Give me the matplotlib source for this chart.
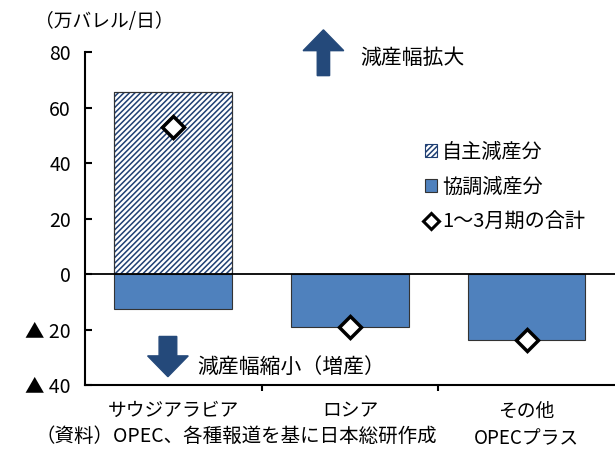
import matplotlib
matplotlib.use("Agg")
import numpy as np
import matplotlib.pyplot as plt
from matplotlib.patches import Patch, FancyArrow
from matplotlib.lines import Line2D

plt.rcParams['font.family'] = ['Noto Sans CJK JP', 'DejaVu Sans']
plt.rcParams['hatch.linewidth'] = 1.1

# data (万バレル/日)
categories = ["サウジアラビア", "ロシア", "その他\nOPECプラス"]
voluntary = [65.5, 0.0, 0.0]          # 自主減産分
coordinated = [-12.5, -19.0, -23.7]   # 協調減産分
total_q1 = [53.0, -19.0, -23.7]       # 1～3月期の合計
yticks = [80, 60, 40, 20, 0, -20, -40]
ytick_labels = ["80", "60", "40", "20", "0", "▲ 20", "▲ 40"]

blue = "#4F81BD"
navy = "#1F3F73"
arrow_col = "#24497A"

fig = plt.figure(figsize=(6.15, 4.49), dpi=100)
ax = fig.add_axes([0.138, 0.1425, 0.862, 0.7416])

x = np.arange(len(categories))
w = 0.665
ax.bar(x, voluntary, w, color="white", edgecolor=navy, hatch="//////", linewidth=0.8)
ax.bar(x, voluntary, w, color="none", edgecolor="#333333", linewidth=0.8)
ax.bar(x, coordinated, w, color=blue, edgecolor="#333333", linewidth=0.8)
ax.axhline(0, color="black", linewidth=1.3, zorder=3)
ax.plot(x, total_q1, linestyle="none", marker="D", markersize=11,
        markerfacecolor="white", markeredgecolor="black", markeredgewidth=2.5, zorder=4)

ax.set_xlim(-0.5, 2.5)
ax.set_ylim(-40, 80)
ax.set_yticks(yticks)
ax.set_yticklabels(ytick_labels, fontsize=14)
ax.set_xticks(x)
ax.set_xticklabels(categories, fontsize=13.5, linespacing=1.45)
ax.set_xticks([0.5, 1.5], minor=True)
ax.tick_params(axis="x", which="major", length=0, pad=11)
ax.tick_params(axis="x", which="minor", direction="out", length=4, width=1.5)
ax.tick_params(axis="y", direction="in", length=5, width=1.5, pad=10)
for s in ["top", "right"]:
    ax.spines[s].set_visible(False)
for s in ["left", "bottom"]:
    ax.spines[s].set_linewidth(1.5)

# arrows
ax.add_patch(FancyArrow(0.85, 71.5, 0, 16.5, width=0.07, head_width=0.23,
                        head_length=7.5, length_includes_head=True,
                        color=arrow_col, clip_on=False))
ax.text(1.06, 77.8, "減産幅拡大", fontsize=15, va="center", ha="left")
ax.add_patch(FancyArrow(-0.03, -22.5, 0, -14.5, width=0.1, head_width=0.23,
                        head_length=7.5, length_includes_head=True,
                        color=arrow_col, clip_on=False))
ax.text(0.135, -33.5, "減産幅縮小（増産）", fontsize=15, va="center", ha="left")

handles = [
    Patch(facecolor="white", edgecolor=navy, hatch="//////", linewidth=0.8),
    Patch(facecolor=blue, edgecolor="#333333", linewidth=0.8),
    Line2D([], [], linestyle="none", marker="D", markersize=8,
           markerfacecolor="white", markeredgecolor="black", markeredgewidth=2.2),
]
labels = ["自主減産分", "協調減産分", "1～3月期の合計"]
ax.legend(handles, labels, loc="upper left", bbox_to_anchor=(0.626, 0.755),
          frameon=False, fontsize=14.5, handlelength=0.6, handleheight=0.6,
          handletextpad=0.25, labelspacing=0.7, borderaxespad=0)

fig.text(0.057, 1 - 22 / 449, "（万バレル/日）", fontsize=13.5, va="center", ha="left")
fig.text(0.057, 0.004, "（資料）OPEC、各種報道を基に日本総研作成",
         fontsize=14, va="bottom", ha="left")

fig.savefig("out.png", dpi=100)
